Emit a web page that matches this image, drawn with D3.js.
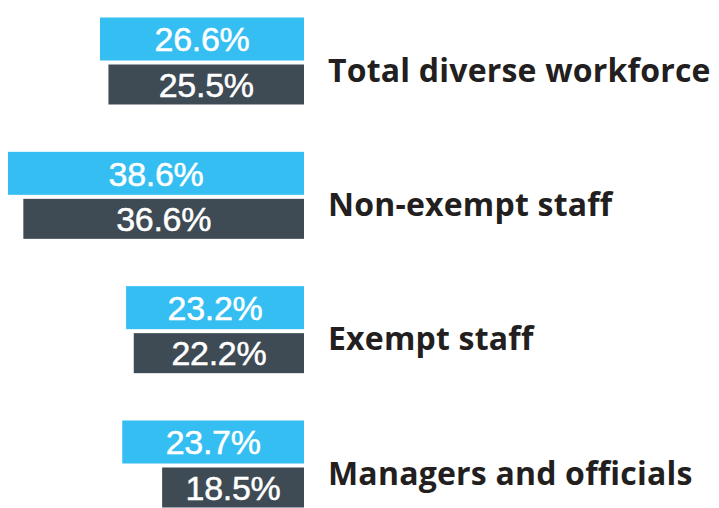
<!DOCTYPE html>
<html><head><meta charset="utf-8">
<script src="https://cdn.jsdelivr.net/npm/d3@7"></script>
<style>body{margin:0;background:#fff}svg{display:block}</style>
</head><body><svg id="c" width="719" height="508"></svg>
<script>
const categories = ["Total diverse workforce", "Non-exempt staff", "Exempt staff", "Managers and officials"];
const seriesA = [26.6, 38.6, 23.2, 23.7]; // light blue
const seriesB = [25.5, 36.6, 22.2, 18.5]; // dark slate

const W = 719, H = 508, right = 304;
const svg = d3.select("#c");
const x = d3.scaleLinear().domain([0, 38.6]).range([0, 296]);
const y = d3.scalePoint().domain(categories).range([61, 464]);
const hA = 43, hB = 40, gap = 4;
const fmt = v => v.toFixed(1) + "%";

categories.forEach((c, i) => {
  const cy = y(c);
  const topA = cy - (hA + gap + hB) / 2;
  const topB = topA + hA + gap;
  [[seriesA[i], topA, hA, "#34bef2"], [seriesB[i], topB, hB, "#3e4a54"]].forEach(([v, t, h, col]) => {
    const w = x(v);
    svg.append("rect").attr("x", right - w).attr("y", t).attr("width", w).attr("height", h).attr("fill", col);
    svg.append("text").attr("x", right - w / 2).attr("y", t + h / 2).attr("dy", "0.36em")
      .attr("text-anchor", "middle").attr("fill", "#fff")
      .style("font-family", "'Liberation Sans', Arial, sans-serif").style("font-size", "34px")
      .style("stroke", "#fff").style("stroke-width", "0.5px")
      .style("letter-spacing", "-0.3px").text(fmt(v));
  });
  svg.append("text").attr("x", 328).attr("y", cy + 9).attr("dy", "0.36em")
    .attr("fill", "#231f20").style("font-family", "'Open Sans', sans-serif").style("font-weight", "700")
    .style("font-size", "32px").style("letter-spacing", "0.2px").text(c);
});
</script></body></html>
